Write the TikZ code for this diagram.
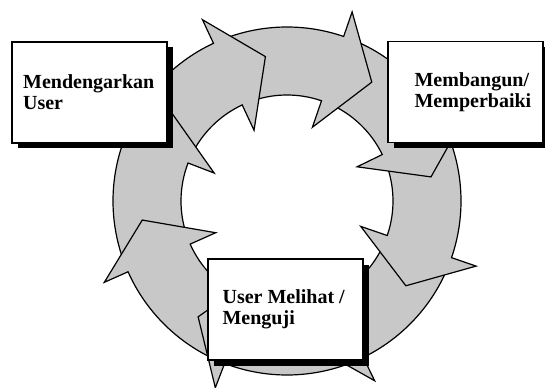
\documentclass[tikz,border=0pt]{standalone}
\usepackage{fontspec}
\setmainfont{Liberation Serif}
\usetikzlibrary{positioning}

\tikzset{
  ringarrow/.style={draw=black, line width=0.9pt, fill={rgb,255:red,200;green,200;blue,200}},
  boxshadow/.style={fill=black, minimum width=116.25pt, minimum height=75.75pt, inner sep=0pt},
  stagebox/.style={draw=black, line width=0.9pt, fill=white, minimum width=116.25pt, minimum height=75.75pt, inner sep=0pt},
  stagetext/.style={inner sep=0pt, align=left, font=\fontsize{15}{15.75}\selectfont\bfseries}
}

\begin{document}
\begin{tikzpicture}[x=0.75pt,y=0.75pt,yscale=-1,xscale=1]
\useasboundingbox (0,0) rectangle (545,388);
% centre of the ring
\coordinate (hub) at (287,201);

%Block Arcs: tail angle / head base angle, head tip 16.5 further on
\begin{scope}[shift={(hub)}]
\foreach \t/\b in {23/64, -22/19, -67/-26, -111/-71, -155/-115, -200/-159, -245/-204, 68/111}
  \draw[ringarrow] (\t:174) arc[start angle=\t, end angle=\b, radius=174] -- (\b:200) -- ({\b+16.5}:146) -- (\b:78) -- (\b:106) arc[start angle=\b, end angle=\t, radius=106] -- cycle;
\end{scope}

%Shadows
\node[boxshadow] (listenshade) at (95,98) {};
\node[boxshadow] (buildshade) at (471,97.5) {};
\node[boxshadow] (testshade) at (291,315) {};

%Rectangles
\node[stagebox] (listen) at (89.5,92.5) {};
\node[stagebox] (build) at (465.5,92) {};
\node[stagebox] (test) at (285.5,309.5) {};

% Text Node
\node[stagetext, right=8.6pt of listen.west] (listentext) {Mendengarkan\\User};
% Text Node
\node[stagetext, right=20.2pt of build.west] (buildtext) {Membangun/\\Memperbaiki};
% Text Node
\node[stagetext, right=11.2pt of test.west] (testtext) {User Melihat /\\Menguji};

\end{tikzpicture}
\end{document}
